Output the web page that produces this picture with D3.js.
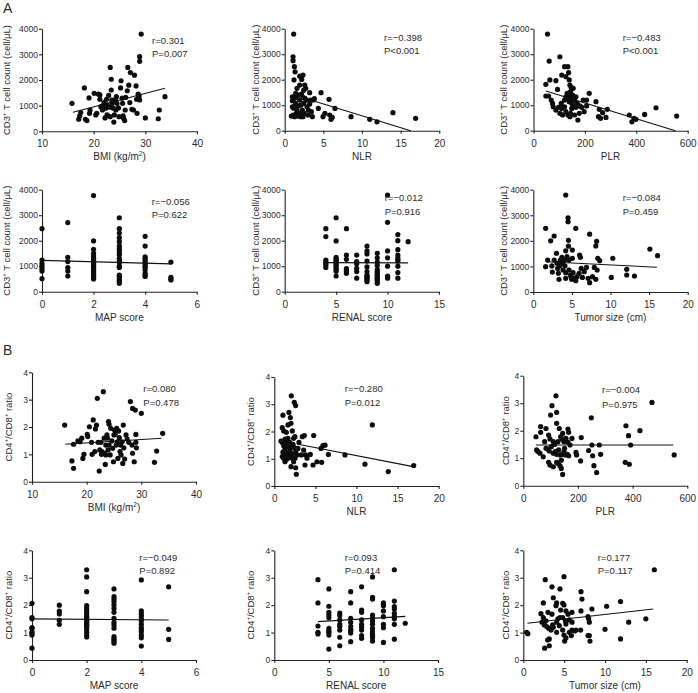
<!DOCTYPE html>
<html><head><meta charset="utf-8">
<script src="https://cdn.jsdelivr.net/npm/d3@7"></script>
<style>
body{margin:0;background:#fff;}
svg{display:block;font-family:"Liberation Sans",Arial,Helvetica,sans-serif;}
</style></head><body>
<svg id="c" width="698" height="693"></svg>
<script>
// ---------- DATA ----------
const bmiCD3 = [[15.8,1090],[17.3,600],[17.5,730],[17.1,470],[18.2,1690],[18.4,470],[18.7,420],[19.1,1300],[19.2,700],[19.3,830],[20.1,1480],[20.4,640],[20.6,700],[20.9,1450],[21.2,1420],[21.2,1250],[21.4,960],[21.7,830],[22.0,1120],[21.8,990],[22.2,520],[22.3,900],[22.5,1250],[22.6,1030],[22.9,1400],[23.1,940],[23.2,2490],[23.4,2030],[23.4,1610],[23.2,570],[23.5,1220],[23.6,1090],[23.8,900],[23.9,360],[24.0,640],[24.2,1250],[24.3,830],[24.4,1350],[24.5,1090],[24.8,910],[24.9,570],[25.2,1690],[25.3,1970],[25.5,1290],[25.6,1090],[25.7,600],[25.8,510],[26.0,420],[26.1,830],[26.2,1320],[26.5,1580],[26.6,2490],[26.8,1800],[27.0,1120],[27.1,2290],[27.4,860],[27.7,830],[27.9,2190],[28.2,1770],[28.3,1250],[28.4,700],[28.6,1450],[28.7,1320],[28.8,1380],[28.9,2910],[28.9,2730],[29.2,3790],[28.9,1220],[30.0,520],[32.5,490],[32.7,830],[33.8,1350],[22.0,940],[22.6,640]];
const nlrCD3 = [[1.16,3790],[1.08,2900],[1.08,2745],[1.25,2510],[1.34,2310],[1.2,1990],[1.94,2140],[2.37,2180],[2.2,2010],[1.94,1790],[2.59,1790],[2.72,1660],[2.46,1590],[0.99,1330],[1.29,1270],[1.5,1330],[1.77,1400],[1.94,1200],[2.16,1440],[2.37,1310],[0.99,940],[1.16,880],[1.42,1070],[1.59,810],[1.77,970],[1.94,680],[1.08,610],[0.86,575],[1.29,550],[2.11,550],[2.28,810],[2.46,1070],[2.63,1270],[2.8,1200],[2.89,940],[3.06,810],[3.23,1490],[3.32,1200],[3.45,745],[3.58,550],[3.66,1200],[3.84,1255],[4.35,875],[4.7,1490],[4.96,550],[5.2,680],[5.73,1230],[5.82,615],[5.99,445],[6.16,525],[6.5,875],[8.58,550],[11.0,445],[11.94,350],[14.0,705],[16.94,485],[1.5,680],[1.77,575],[2.11,1005],[1.42,1465],[1.59,1660],[2.54,680],[3.02,615],[0.99,1175],[1.34,970],[2.37,550],[3.23,1045]];
const plrCD3 = [[54.5,3790],[61,2730],[102.6,2900],[48,1820],[63.6,1990],[87,1960],[110,2180],[120.8,2510],[133.8,2510],[136.4,2275],[126,2120],[139,1990],[141.5,1790],[146.8,1700],[154.5,1660],[93.5,1620],[48,1360],[58.4,1360],[69,1200],[74,1070],[76.6,940],[87,810],[97.4,915],[110,875],[102.6,680],[113,615],[126,745],[133.8,615],[141.5,550],[120.8,1200],[126,1330],[131,1465],[133.8,1270],[139,1140],[141.5,1360],[144,1530],[146.8,1230],[149.4,1070],[152,1400],[154.5,970],[159.7,1200],[165,915],[170,1070],[172.7,420],[178,680],[180.5,970],[188,915],[193.5,1200],[197,745],[206.5,1200],[216.9,1465],[206.5,970],[243,1140],[255.8,840],[253,550],[261,485],[269,705],[282,520],[287,840],[372.7,615],[383,350],[391,485],[398.7,445],[432.5,640],[476.6,900],[557,575],[149,875],[159.7,615],[144,680],[165,1330],[120.8,940],[108,1070]];
const mapCD3 = [[0,[2470,1240,1110,1000,900,810,510]],[1,[2710,1350,1180,950,810,615]],[2,[3770,1990,1660,1500,1400,1330,1270,1200,1150,1100,1050,1000,950,900,850,800,750,700,650,600,550,500]],[3,[2900,2470,2300,2120,1960,1800,1700,1620,1500,1450,1300,1200,1150,1000,950,650,600,520,450,400,330]],[4,[2170,1790,1370,1300,1240,1150,1085,1000,950,850,720,650,600]],[5,[1160,560,500,460]]];
const renalCD3 = [[4,[2470,2160,1240,1180,1120,1050,950]],[5,[2900,1990,1350,1280,1240,1180,1120,1050,1000,915,860,800,615]],[6,[2470,1440,1270,910,870,800,720]],[7,[1440,1180,1100,915,790,530]],[8,[1790,1600,1480,1200,970,790,650,600,560,500,460,390]],[9,[1500,1330,1160,1030,870,790,720,650,590,530,480,420,330]],[10,[3790,2720,1600,1330,1000,615,570,530]],[11,[2240,2000,1650,1440,1330,1250,1200,1000,750,530]],[12,[1960]]];
const tumorCD3 = [[4.2,3790],[4.5,2900],[4.5,2750],[1.6,2490],[5.5,2490],[2.7,2190],[2.25,2000],[4.55,2020],[4.55,1790],[5.06,1640],[4.2,1610],[7.3,2260],[8.2,1980],[8.1,1800],[15.1,1680],[16.1,1420],[10.3,1320],[1.86,1250],[1.6,990],[2.4,1020],[2.7,1250],[3.0,1510],[3.07,1120],[3.16,920],[3.25,730],[3.33,495],[3.5,1250],[3.7,1355],[3.77,1120],[3.85,860],[4.03,1250],[4.1,1020],[4.2,535],[4.37,1380],[4.63,860],[4.8,665],[4.9,600],[4.98,495],[5.06,1315],[5.15,755],[5.3,535],[5.5,440],[5.67,600],[5.93,730],[6.0,1445],[6.1,1355],[6.2,920],[6.36,570],[6.6,795],[6.88,960],[7.1,535],[7.3,365],[7.66,600],[7.9,960],[8.1,495],[8.27,860],[8.35,1315],[8.6,1225],[10.1,570],[12.1,885],[12.1,665],[13.1,625],[2.47,780],[3.42,1030],[4.2,755],[4.63,1250]];

const bmiRatio = [[15.98,2.07],[17.3,0.76],[17.6,0.49],[17.6,1.37],[18.4,1.49],[18.8,1.46],[19.1,1.59],[19.3,0.85],[19.5,1.0],[20.1,1.73],[20.2,1.65],[20.5,2.01],[20.9,1.44],[21.0,1.0],[21.2,2.26],[21.5,1.10],[21.6,1.93],[21.8,2.07],[21.95,3.05],[22.1,1.44],[22.3,0.39],[22.4,1.16],[22.6,1.44],[22.7,1.0],[22.8,1.10],[23.05,3.29],[23.2,1.59],[23.3,1.04],[23.4,0.63],[23.5,1.34],[23.5,0.98],[23.7,1.71],[23.8,1.59],[23.9,1.16],[24.0,2.2],[24.1,2.1],[24.1,1.34],[24.3,0.98],[24.4,1.95],[24.6,1.49],[24.75,1.22],[24.9,0.73],[25.0,1.71],[25.1,1.89],[25.2,1.73],[25.4,1.34],[25.5,1.95],[25.6,1.46],[25.7,0.85],[25.85,1.85],[25.98,1.61],[26.1,1.10],[26.2,1.34],[26.3,0.98],[26.5,1.46],[26.6,0.67],[26.7,2.07],[26.8,1.24],[26.95,0.83],[27.2,1.71],[27.4,1.56],[27.7,1.44],[28.0,2.93],[28.3,1.34],[28.4,1.04],[28.4,2.68],[28.7,0.73],[28.9,2.62],[29.0,1.73],[29.0,1.44],[29.1,1.24],[30.0,2.5],[32.4,0.71],[32.8,1.12],[33.9,1.77]];
const nlrRatio = [[2.07,3.31],[2.43,3.07],[2.6,2.95],[1.78,2.7],[1.05,2.6],[1.95,2.51],[2.03,2.3],[1.66,2.24],[0.97,2.14],[1.14,2.02],[1.46,1.97],[2.19,2.02],[0.81,1.65],[0.97,1.6],[1.3,1.72],[1.46,1.6],[1.66,1.75],[1.87,1.6],[2.35,1.75],[2.51,1.81],[1.14,1.48],[1.3,1.36],[1.54,1.44],[1.78,1.5],[1.95,1.38],[2.11,1.48],[2.27,1.53],[2.43,1.41],[1.05,1.24],[1.3,1.14],[1.46,1.24],[1.7,1.14],[1.95,1.24],[2.19,1.16],[2.6,1.26],[1.14,1.02],[1.3,0.89],[1.54,0.99],[1.78,1.04],[2.03,0.71],[2.35,0.89],[2.51,1.02],[2.6,0.67],[2.68,0.43],[2.76,1.14],[0.97,1.08],[2.19,1.02],[3.29,1.14],[3.41,1.81],[3.57,1.32],[3.65,1.85],[3.73,0.77],[3.81,1.14],[3.98,1.02],[4.38,1.16],[4.79,1.85],[4.71,0.77],[5.19,0.89],[5.76,0.87],[5.68,1.38],[5.92,1.48],[6.17,1.5],[6.58,1.16],[8.6,1.14],[11.03,0.8],[11.93,2.24],[13.87,0.53],[16.96,0.75],[3.0,1.6],[2.88,1.38]];
const plrRatio = [[119.5,3.27],[104.9,2.91],[122,2.67],[100,2.57],[122,2.27],[63.4,2.15],[83,2.08],[131.7,2.08],[144,1.9],[163.4,2.06],[165.9,1.94],[46.3,1.78],[63.4,1.94],[78,1.6],[92.7,1.84],[97.6,1.7],[109.8,1.6],[114.6,1.5],[126.8,1.6],[136.6,1.78],[141.5,1.7],[148.8,1.6],[156,1.72],[163.4,1.58],[178,1.72],[212,1.75],[48.8,1.3],[53.6,1.24],[61,1.18],[73,1.05],[83,1.36],[90.2,1.33],[95,1.26],[102.4,1.42],[109.8,1.18],[117,1.24],[122,1.14],[129.3,1.3],[134,1.12],[139,0.93],[144,1.14],[148.8,1.24],[153.7,1.12],[161,1.14],[166,1.09],[92.7,0.85],[97.6,0.75],[109.8,0.69],[122,0.85],[134,0.73],[139,0.63],[144,0.41],[126.8,0.81],[192.7,1.21],[195,1.12],[209.7,0.9],[239,1.28],[248.8,2.47],[251,1.48],[253.7,1.09],[258.5,0.73],[268.3,0.48],[278,1.48],[283,1.14],[375.6,2.18],[373,0.85],[385,1.82],[387.8,0.78],[392.7,1.48],[426.8,2.0],[470.7,3.03],[552,1.12],[171,1.48],[151,1.36]];
const mapRatio = [[0,[2.07,1.55,1.5,1.18,1.15,1.03,0.97,0.91,0.43]],[1,[2.0,1.78,1.68,1.45,1.3]],[2,[3.29,3.03,2.49,1.98,1.88,1.78,1.69,1.6,1.55,1.5,1.45,1.4,1.35,1.3,1.25,1.2,1.11,1.01,0.91,0.84]],[3,[2.59,2.31,2.22,2.13,2.01,1.88,1.74,1.52,1.37,1.28,1.16,0.85,0.78,0.73,0.67,0.61]],[4,[2.92,1.79,1.69,1.6,1.5,1.42,1.3,1.18,1.1,1.03,0.91,0.81,0.51]],[5,[2.67,1.12,0.75]]];
const renalRatio = [[4,[2.93,2.08,1.24,1.01,0.95]],[5,[2.59,1.96,1.74,1.64,1.54,1.15,1.05,1.01,0.91,0.4]],[6,[1.71,1.62,1.46,1.3,1.22,1.09,0.83,0.52]],[7,[2.49,2.08,1.52,1.37,1.22,1.1,1.07,0.98,0.67]],[8,[2.67,1.82,1.74,1.46,1.3,1.2,1.09,0.89,0.79]],[9,[3.03,2.28,2.22,1.64,1.52,1.42,1.3,1.15,1.03,0.94,0.86,0.81,0.69]],[10,[2.08,2.03,1.98,1.79,1.58,1.3,1.18,0.64]],[11,[3.29,2.15,1.95,1.86,1.7,1.58,1.5,1.3,0.76]],[12,[1.34]]];
const tumorRatio = [[2.69,2.93],[4.98,3.04],[16.04,3.29],[3.51,2.67],[4.49,2.59],[7.06,2.49],[3.67,2.27],[7.18,2.22],[2.45,2.08],[4.08,2.08],[4.82,2.07],[4.98,2.01],[4.0,1.98],[11.9,2.13],[10.2,1.96],[8.4,1.86],[2.16,1.69],[3.02,1.74],[3.51,1.67],[4.57,1.82],[5.22,1.79],[5.47,1.67],[5.96,1.74],[7.06,1.79],[7.92,1.58],[8.0,1.5],[2.45,1.55],[2.78,1.43],[4.08,1.38],[4.24,1.5],[4.82,1.55],[5.14,1.43],[5.63,1.46],[5.96,1.38],[2.57,1.28],[2.86,1.22],[3.1,1.16],[3.39,1.09],[3.67,1.19],[4.08,1.01],[4.41,1.25],[4.82,1.09],[4.98,0.91],[5.06,0.69],[5.22,0.81],[5.63,1.01],[5.88,0.89],[5.96,1.09],[6.29,1.06],[7.02,1.09],[7.92,0.89],[8.08,1.38],[8.16,0.69],[0.4,1.01],[0.55,0.96],[3.18,0.77],[2.98,0.73],[3.18,0.52],[2.61,0.43],[6.45,1.09],[8.08,0.89],[10.0,1.12],[11.9,0.77],[12.9,1.38],[15.0,1.5],[2.29,1.38],[3.59,1.28],[4.49,1.55],[5.22,1.31]];

// regression lines: [[x0,y0],[x1,y1]]
const fitLines = {
  bmiCD3:[[16,740],[33.8,1675]], nlrCD3:[[2.5,1280],[16.3,0]], plrCD3:[[48,1560],[552,0]],
  mapCD3:[[0,1230],[5,1090]], renalCD3:[[4,1140],[12,1130]], tumorCD3:[[1.77,1185],[16,965]],
  bmiRatio:[[16.1,1.37],[33.7,1.59]], nlrRatio:[[2.88,1.53],[16.9,0.71]], plrRatio:[[46,1.48],[549,1.48]],
  mapRatio:[[0,1.5],[5,1.46]], renalRatio:[[4,1.4],[12,1.59]], tumorRatio:[[0.5,1.34],[15.9,1.86]]
};
const statR = {bmiCD3:"r=0.301",nlrCD3:"r=−0.398",plrCD3:"r=−0.483",mapCD3:"r=−0.056",renalCD3:"r=−0.012",tumorCD3:"r=−0.084",
  bmiRatio:"r=0.080",nlrRatio:"r=−0.280",plrRatio:"r=−0.004",mapRatio:"r=−0.049",renalRatio:"r=0.093",tumorRatio:"r=0.177"};
const statP = {bmiCD3:"P=0.007",nlrCD3:"P<0.001",plrCD3:"P<0.001",mapCD3:"P=0.622",renalCD3:"P=0.916",tumorCD3:"P=0.459",
  bmiRatio:"P=0.478",nlrRatio:"P=0.012",plrRatio:"P=0.975",mapRatio:"P=0.892",renalRatio:"P=0.414",tumorRatio:"P=0.117"};

const ticksBMI=[10,20,30,40], ticksNLR=[0,5,10,15,20], ticksPLR=[0,200,400,600], ticksMAP=[0,2,4,6], ticksRENAL=[0,5,10,15], ticksTumor=[0,5,10,15,20];
const ticksCD3=[0,1000,2000,3000,4000], ticksRatio=[0,1,2,3,4];

// ---------- LAYOUT ----------
function flat(g){ const o=[]; g.forEach(([x,ys])=>ys.forEach(y=>o.push([x,y]))); return o; }
const panels = [
 {k:"bmiCD3", d:bmiCD3, xd:[10,40], xt:ticksBMI, yd:[0,4000], yt:ticksCD3, b:[42,197,28.7,131.3], xl:"bmi", yl:"cd3", s:[152,44.3,56.9], yx:7},
 {k:"nlrCD3", d:nlrCD3, xd:[0,20], xt:ticksNLR, yd:[0,4000], yt:ticksCD3, b:[284.7,439.3,28.7,130.7], xl:"NLR", yl:"cd3", s:[384,41,54], yx:256},
 {k:"plrCD3", d:plrCD3, xd:[0,600], xt:ticksPLR, yd:[0,4000], yt:ticksCD3, b:[533.5,687.7,28.7,130.7], xl:"PLR", yl:"cd3", s:[622.7,41,54], yx:504},
 {k:"mapCD3", d:flat(mapCD3), xd:[0,6], xt:ticksMAP, yd:[0,4000], yt:ticksCD3, b:[42,196.7,189.7,291.7], xl:"MAP score", yl:"cd3", s:[151.7,205,217.7], yx:7},
 {k:"renalCD3", d:flat(renalCD3), xd:[0,15], xt:ticksRENAL, yd:[0,4000], yt:ticksCD3, b:[284.7,439,189.7,291.7], xl:"RENAL score", yl:"cd3", s:[384.7,201,215], yx:256},
 {k:"tumorCD3", d:tumorCD3, xd:[0,20], xt:ticksTumor, yd:[0,4000], yt:ticksCD3, b:[533.3,687.7,189.7,292], xl:"Tumor size (cm)", yl:"cd3", s:[622.7,201,215], yx:504},
 {k:"bmiRatio", d:bmiRatio, xd:[10,40], xt:ticksBMI, yd:[0,4], yt:ticksRatio, b:[32,196,372.3,481.7], xl:"bmi", yl:"ratio", s:[143.3,391.7,405.7], yx:9},
 {k:"nlrRatio", d:nlrRatio, xd:[0,20], xt:ticksNLR, yd:[0,4], yt:ticksRatio, b:[274.3,438.7,377,486], xl:"NLR", yl:"ratio", s:[344.7,391.7,405.7], yx:251},
 {k:"plrRatio", d:plrRatio, xd:[0,600], xt:ticksPLR, yd:[0,4], yt:ticksRatio, b:[523.3,687.3,375.7,485.7], xl:"PLR", yl:"ratio", s:[602,393.3,408.3], yx:506},
 {k:"mapRatio", d:flat(mapRatio), xd:[0,6], xt:ticksMAP, yd:[0,4], yt:ticksRatio, b:[32,196,550.3,660], xl:"MAP score", yl:"ratio", s:[139.3,561,574.3], yx:9},
 {k:"renalRatio", d:flat(renalRatio), xd:[0,15], xt:ticksRENAL, yd:[0,4], yt:ticksRatio, b:[274.3,438,550.3,660], xl:"RENAL score", yl:"ratio", s:[344.7,561,574.3], yx:251},
 {k:"tumorRatio", d:tumorRatio, xd:[0,20], xt:ticksTumor, yd:[0,4], yt:ticksRatio, b:[523.3,686.7,550.3,660], xl:"Tumor size (cm)", yl:"ratio", s:[597.7,561,574.3], yx:506}
];

const svg = d3.select("#c");
const TXT="#2b2b2b";

svg.append("text").attr("x",3).attr("y",12.5).attr("font-size",14).attr("fill",TXT).text("A");
svg.append("text").attr("x",3).attr("y",355).attr("font-size",14).attr("fill",TXT).text("B");

panels.forEach(p=>{
  const [x0,x1,y0,y1]=p.b;
  const x=d3.scaleLinear().domain(p.xd).range([x0,x1]);
  const y=d3.scaleLinear().domain(p.yd).range([y1,y0]);
  const g=svg.append("g");
  const xa=g.append("g").attr("transform",`translate(0,${y1})`)
    .call(d3.axisBottom(x).tickValues(p.xt).tickSize(3).tickSizeOuter(0).tickPadding(6).tickFormat(d3.format("d")));
  const ya=g.append("g").attr("transform",`translate(${x0},0)`)
    .call(d3.axisLeft(y).tickValues(p.yt).tickSize(3).tickSizeOuter(0).tickPadding(1).tickFormat(d3.format("d")));
  [xa,ya].forEach(a=>{a.selectAll("path,line").attr("stroke","#222").attr("stroke-width",1.1); a.selectAll("text").attr("fill",TXT).attr("font-family",'"Liberation Sans",Arial,sans-serif');});
  xa.selectAll("text").attr("font-size",10);
  ya.selectAll("text").attr("font-size",8.5);

  // x title
  const xt=g.append("text").attr("x",(x0+x1)/2).attr("y",y1+29).attr("text-anchor","middle").attr("font-size",10).attr("fill",TXT);
  if(p.xl==="bmi"){ xt.append("tspan").text("BMI (kg/m"); xt.append("tspan").attr("font-size",6.5).attr("dy",-4).text("2"); xt.append("tspan").attr("dy",4).text(")"); }
  else xt.text(p.xl);
  // y title
  const yt=g.append("text").attr("transform",`translate(${p.yx},${(y0+y1)/2}) rotate(-90)`).attr("text-anchor","middle").attr("dy","0.35em").attr("font-size",9.5).attr("fill",TXT);
  if(p.yl==="cd3"){ yt.append("tspan").text("CD3"); yt.append("tspan").attr("font-size",6).attr("dy",-4).text("+"); yt.append("tspan").attr("dy",4).text(" T cell count (cell/μL)"); }
  else { yt.append("tspan").text("CD4"); yt.append("tspan").attr("font-size",6).attr("dy",-4).text("+"); yt.append("tspan").attr("dy",4).text("/CD8"); yt.append("tspan").attr("font-size",6).attr("dy",-4).text("+"); yt.append("tspan").attr("dy",4).text(" ratio"); }

  // fit line
  const f=fitLines[p.k];
  g.append("line").attr("x1",x(f[0][0])).attr("y1",y(f[0][1])).attr("x2",x(f[1][0])).attr("y2",y(f[1][1])).attr("stroke","#111").attr("stroke-width",1.1);
  // dots
  g.selectAll("circle.d").data(p.d).join("circle").attr("class","d").attr("cx",d=>x(d[0])).attr("cy",d=>y(d[1])).attr("r",2.6).attr("fill","#0d0d0d");
  // stats
  g.append("text").attr("x",p.s[0]).attr("y",p.s[1]).attr("font-size",9.5).attr("fill",TXT).text(statR[p.k]);
  g.append("text").attr("x",p.s[0]).attr("y",p.s[2]).attr("font-size",9.5).attr("fill",TXT).text(statP[p.k]);
});
</script>
</body></html>
